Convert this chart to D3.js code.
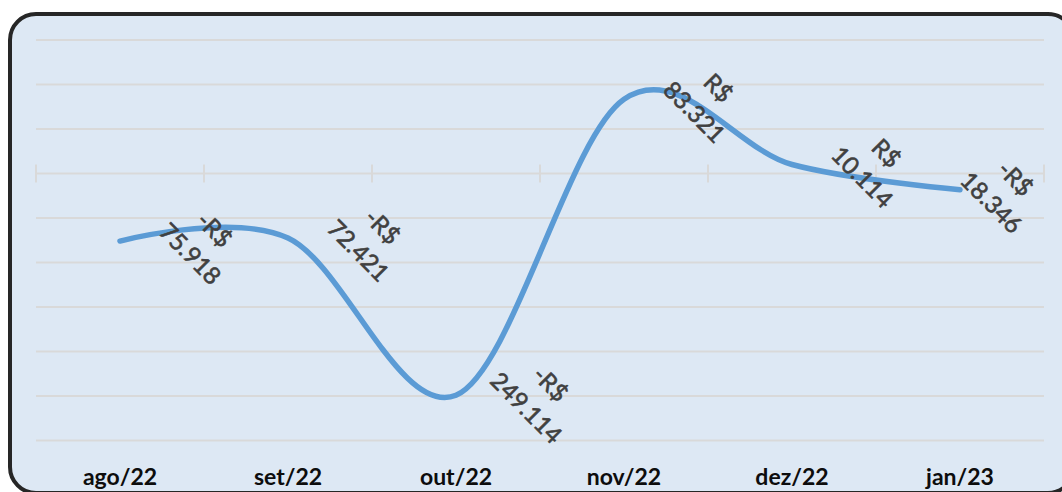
<!DOCTYPE html>
<html>
<head>
<meta charset="utf-8">
<script src="https://cdn.jsdelivr.net/npm/d3@7"></script>
<style>
  body { margin: 0; background: #ffffff; }
  svg { display: block; }
</style>
</head>
<body>
<div id="chart"></div>
<script>
// months and monthly result (R$)
var months = ["ago/22", "set/22", "out/22", "nov/22", "dez/22", "jan/23"];
var values = [-75918, -72421, -249114, 83321, 10114, -18346];
var labelText = ["-R$|75.918", "-R$|72.421", "-R$|249.114", "R$|83.321", "R$|10.114", "-R$|18.346"];
var gridTicks = [150000, 100000, 50000, 0, -50000, -100000, -150000, -200000, -250000, -300000];

var svgWidth = 1062;
var svgHeight = 492;

var plot = { left: 36, right: 1044, top: 40, bottom: 440.5 };

var svg = d3.select("#chart")
    .append("svg")
    .attr("width", svgWidth)
    .attr("height", svgHeight);

// chart frame
svg.append("rect")
    .attr("x", 10)
    .attr("y", 14)
    .attr("width", 1064)
    .attr("height", 479)
    .attr("rx", 26)
    .attr("fill", "#dde8f4")
    .attr("stroke", "#262626")
    .attr("stroke-width", 4);

var xBand = d3.scaleBand()
    .domain(months)
    .range([plot.left, plot.right]);

var yScale = d3.scaleLinear()
    .domain([-300000, 150000])
    .range([plot.bottom, plot.top]);

function xc(m) { return xBand(m) + xBand.bandwidth() / 2; }

// gridlines
svg.append("g")
    .selectAll("line")
    .data(gridTicks)
    .enter()
    .append("line")
    .attr("x1", plot.left)
    .attr("x2", plot.right)
    .attr("y1", d => yScale(d))
    .attr("y2", d => yScale(d))
    .attr("stroke", "#d9d9d9")
    .attr("stroke-width", 2);

// tick marks on the zero line, at category boundaries
var bounds = months.map(m => xBand(m)).concat([plot.right]);
svg.append("g")
    .selectAll("line")
    .data(bounds)
    .enter()
    .append("line")
    .attr("x1", d => d)
    .attr("x2", d => d)
    .attr("y1", yScale(0) - 9)
    .attr("y2", yScale(0) + 9)
    .attr("stroke", "#d9d9d9")
    .attr("stroke-width", 2);

// category labels
svg.append("g")
    .selectAll("text")
    .data(months)
    .enter()
    .append("text")
    .attr("x", d => xc(d))
    .attr("y", 485)
    .attr("text-anchor", "middle")
    .attr("font-family", "Lato, 'Open Sans', sans-serif")
    .attr("font-weight", "bold")
    .attr("font-size", 23)
    .attr("fill", "#0d0d0d")
    .text(d => d);

// smooth line
var line = d3.line()
    .x((d, i) => xc(months[i]))
    .y(d => yScale(d))
    .curve(d3.curveCardinal.tension(0));

svg.append("path")
    .datum(values)
    .attr("d", line)
    .attr("fill", "none")
    .attr("stroke", "#5b9bd5")
    .attr("stroke-width", 5.5)
    .attr("stroke-linecap", "round");

// data labels, rotated 45deg, to the right of each point
var labels = svg.append("g")
    .selectAll("g")
    .data(values)
    .enter()
    .append("g")
    .attr("transform", function (d, i) {
        var x = xc(months[i]);
        var off = Math.min(82, plot.right - x - 41);
        return "translate(" + (x + off) + "," + (yScale(d) + 1) + ") rotate(45)";
    });

labels.each(function (d, i) {
    var parts = labelText[i].split("|");
    var t = d3.select(this).append("text")
        .attr("text-anchor", "middle")
        .attr("font-family", "Lato, 'Open Sans', sans-serif")
        .attr("font-size", 24)
        .attr("fill", "#404040")
        .attr("stroke", "#404040")
        .attr("stroke-width", 0.6);
    t.append("tspan").attr("x", 0).attr("y", -9).text(parts[0]);
    t.append("tspan").attr("x", 0).attr("y", 25).text(parts[1]);
});
</script>
</body>
</html>
